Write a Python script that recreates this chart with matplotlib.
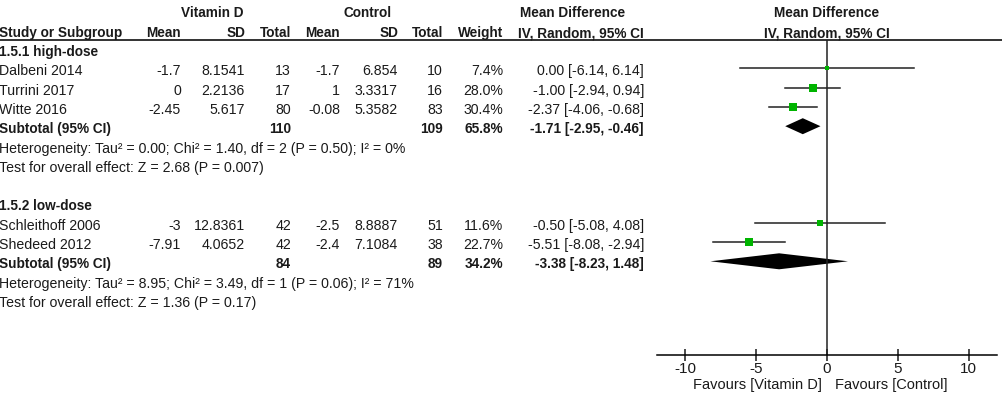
import numpy as np
import matplotlib
matplotlib.use("Agg")
import matplotlib.pyplot as plt

plt.rcParams['font.family'] = ['Liberation Sans', 'DejaVu Sans']

# data
groups = ["1.5.1 high-dose", "1.5.2 low-dose"]
studies = [["Dalbeni 2014", "Turrini 2017", "Witte 2016"],
           ["Schleithoff 2006", "Shedeed 2012"]]
vd_mean = [["-1.7", "0", "-2.45"], ["-3", "-7.91"]]
vd_sd = [["8.1541", "2.2136", "5.617"], ["12.8361", "4.0652"]]
vd_n = [[13, 17, 80], [42, 42]]
c_mean = [["-1.7", "1", "-0.08"], ["-2.5", "-2.4"]]
c_sd = [["6.854", "3.3317", "5.3582"], ["8.8887", "7.1084"]]
c_n = [[10, 16, 83], [51, 38]]
weights = [[7.4, 28.0, 30.4], [11.6, 22.7]]
md = [[0.00, -1.00, -2.37], [-0.50, -5.51]]
lo = [[-6.14, -2.94, -4.06], [-5.08, -8.08]]
hi = [[6.14, 0.94, -0.68], [4.08, -2.94]]

sub_vd_n = [110, 84]
sub_c_n = [109, 89]
sub_weight = [65.8, 34.2]
sub_md = [-1.71, -3.38]
sub_lo = [-2.95, -8.23]
sub_hi = [-0.46, 1.48]
heterogeneity = ["Heterogeneity: Tau\u00b2 = 0.00; Chi\u00b2 = 1.40, df = 2 (P = 0.50); I\u00b2 = 0%",
                 "Heterogeneity: Tau\u00b2 = 8.95; Chi\u00b2 = 3.49, df = 1 (P = 0.06); I\u00b2 = 71%"]
overall = ["Test for overall effect: Z = 2.68 (P = 0.007)",
           "Test for overall effect: Z = 1.36 (P = 0.17)"]

xticks = [-10, -5, 0, 5, 10]

W, H = 1003, 396
fig = plt.figure(figsize=(W / 100, H / 100), dpi=100)
ax = fig.add_axes([0, 0, 1, 1])
ax.set_xlim(0, W)
ax.set_ylim(H, 0)
ax.axis('off')

fs = 10.2
fsb = 9.8
tc = '#1a1a1a'

# forest axes (pixel y, data x)
fx0, fx1 = 657, 997
ytop, yaxis = 40, 355
fax = fig.add_axes([fx0 / W, 1 - yaxis / H, (fx1 - fx0) / W, (yaxis - ytop) / H])
fax.set_xlim(-12, 12)
fax.set_ylim(yaxis, ytop)
fax.patch.set_alpha(0)
for s in ['left', 'right', 'top']:
    fax.spines[s].set_visible(False)
fax.spines['bottom'].set_linewidth(1.1)
fax.set_yticks([])
fax.set_xticks(xticks)
fax.set_xticklabels([str(t) for t in xticks])
fax.tick_params(axis='x', direction='inout', length=8, width=1.1, labelsize=11, pad=1, colors=tc)
fax.axvline(0, color='#222222', lw=1.1)

# columns (right edges)
cols = [181, 245, 291, 340, 398, 443, 503, 644]

def txt(x, y, s, ha='right', bold=False, size=None):
    if size is None:
        size = fsb if bold else fs
    ax.text(x, y, s, ha=ha, va='center', fontsize=size, color=tc,
            fontweight='bold' if bold else 'normal')

# headers
txt(212, 13, "Vitamin D", ha='center', bold=True)
txt(368, 13, "Control", ha='center', bold=True)
txt(573, 13, "Mean Difference", ha='center', bold=True)
txt(827, 13, "Mean Difference", ha='center', bold=True)
txt(-1, 33, "Study or Subgroup", ha='left', bold=True)
for x, h in zip(cols, ["Mean", "SD", "Total", "Mean", "SD", "Total", "Weight", "IV, Random, 95% CI"]):
    txt(x, 33, h, bold=True)
txt(827, 33, "IV, Random, 95% CI", ha='center', bold=True)
ax.plot([0, W], [40, 40], color='#222222', lw=1.3)

y0, dy = 52, 19.3
row = 0
for g in range(len(groups)):
    txt(-1, y0 + row * dy, groups[g], ha='left', bold=True)
    row += 1
    for i in range(len(studies[g])):
        y = y0 + row * dy
        txt(-1, y, studies[g][i], ha='left')
        vals = [vd_mean[g][i], vd_sd[g][i], str(vd_n[g][i]), c_mean[g][i], c_sd[g][i],
                str(c_n[g][i]), "%.1f%%" % weights[g][i],
                "%.2f [%.2f, %.2f]" % (md[g][i], lo[g][i], hi[g][i])]
        for x, v in zip(cols, vals):
            txt(x, y, v)
        ym = y - 3
        fax.plot([lo[g][i], hi[g][i]], [ym, ym], color='#222222', lw=1.1)
        side = 15 * np.sqrt(weights[g][i] / 100)
        fax.plot(md[g][i], ym, 's', color='#00b400', markersize=side * 0.72, mew=0)
        row += 1
    y = y0 + row * dy
    txt(-1, y, "Subtotal (95% CI)", ha='left', bold=True)
    txt(cols[2], y, str(sub_vd_n[g]), bold=True)
    txt(cols[5], y, str(sub_c_n[g]), bold=True)
    txt(cols[6], y, "%.1f%%" % sub_weight[g], bold=True)
    txt(cols[7], y, "%.2f [%.2f, %.2f]" % (sub_md[g], sub_lo[g], sub_hi[g]), bold=True)
    ym = y - 3
    fax.fill([sub_lo[g], sub_md[g], sub_hi[g], sub_md[g]], [ym, ym - 8, ym, ym + 8],
             color='black', lw=0)
    row += 1
    txt(-1, y0 + row * dy, heterogeneity[g], ha='left')
    row += 1
    txt(-1, y0 + row * dy, overall[g], ha='left')
    row += 2

txt(822, 385, "Favours [Vitamin D]", size=10.5)
txt(835, 385, "Favours [Control]", ha='left', size=10.5)

plt.savefig("out.png", dpi=100)
